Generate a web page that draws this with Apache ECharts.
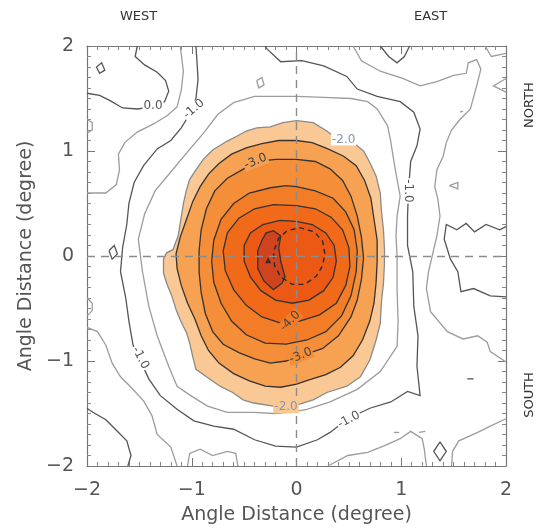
<!DOCTYPE html>
<html>
<head>
<meta charset="utf-8">
<script src="https://cdn.jsdelivr.net/npm/echarts@6/dist/echarts.min.js"></script>
<style>
  html, body { margin: 0; padding: 0; background: #fff; }
  #chart { width: 540px; height: 530px; }
</style>
</head>
<body>
<div id="chart"></div>
<script>
// ---- axis ticks ----
const xTicks = [-2, -1, 0, 1, 2];
const yTicks = [-2, -1, 0, 1, 2];

// ---- filled contour polygons (angle distance x, angle distance y), levels -2.0 ... -5.0 ----
const cLevels = [-2.0, -2.5, -3.0, -3.5, -4.0, -4.5, -5.0];
const c20 = [[0.00,1.29],[0.16,1.27],[0.29,1.19],[0.38,1.12],[0.54,1.08],[0.64,1.00],[0.70,0.89],[0.76,0.76],[0.80,0.60],[0.81,0.44],[0.83,0.25],[0.84,0.06],[0.84,-0.07],[0.83,-0.26],[0.81,-0.45],[0.80,-0.64],[0.76,-0.80],[0.70,-0.99],[0.61,-1.15],[0.48,-1.24],[0.29,-1.30],[0.16,-1.37],[0.03,-1.41],[-0.10,-1.43],[-0.22,-1.43],[-0.41,-1.40],[-0.51,-1.37],[-0.61,-1.30],[-0.73,-1.24],[-0.86,-1.15],[-0.96,-1.08],[-0.99,-0.96],[-1.02,-0.83],[-1.05,-0.73],[-1.11,-0.61],[-1.15,-0.51],[-1.19,-0.38],[-1.24,-0.26],[-1.27,-0.16],[-1.27,-0.03],[-1.24,0.03],[-1.18,0.06],[-1.13,0.19],[-1.11,0.31],[-1.08,0.50],[-1.05,0.63],[-1.02,0.73],[-0.96,0.82],[-0.89,0.92],[-0.80,1.01],[-0.67,1.09],[-0.57,1.14],[-0.48,1.19],[-0.38,1.22],[-0.25,1.23],[-0.13,1.27]];
const c25 = [[0.00,1.10],[0.15,1.08],[0.30,1.02],[0.45,0.95],[0.57,0.86],[0.65,0.72],[0.71,0.55],[0.74,0.35],[0.77,0.15],[0.77,-0.05],[0.76,-0.25],[0.74,-0.45],[0.70,-0.62],[0.63,-0.80],[0.54,-0.95],[0.42,-1.06],[0.28,-1.13],[0.12,-1.18],[0.00,-1.22],[-0.15,-1.25],[-0.30,-1.24],[-0.45,-1.19],[-0.60,-1.12],[-0.74,-1.02],[-0.84,-0.90],[-0.91,-0.76],[-0.97,-0.60],[-1.04,-0.45],[-1.10,-0.28],[-1.14,-0.12],[-1.15,0.02],[-1.11,0.18],[-1.05,0.35],[-0.99,0.52],[-0.92,0.66],[-0.84,0.78],[-0.74,0.88],[-0.62,0.97],[-0.48,1.03],[-0.33,1.07],[-0.17,1.10]];
const c30 = [[0.00,0.92],[0.18,0.90],[0.32,0.83],[0.44,0.72],[0.52,0.57],[0.58,0.38],[0.62,0.18],[0.64,-0.02],[0.62,-0.22],[0.58,-0.42],[0.52,-0.58],[0.40,-0.76],[0.25,-0.88],[0.05,-0.95],[-0.10,-1.00],[-0.25,-1.02],[-0.40,-0.98],[-0.55,-0.92],[-0.70,-0.84],[-0.80,-0.72],[-0.87,-0.55],[-0.91,-0.35],[-0.93,-0.15],[-0.93,0.05],[-0.91,0.25],[-0.86,0.45],[-0.78,0.62],[-0.66,0.74],[-0.52,0.82],[-0.38,0.90],[-0.20,0.92]];
const c35 = [[0.00,0.66],[0.18,0.62],[0.35,0.55],[0.47,0.42],[0.55,0.25],[0.58,0.05],[0.57,-0.15],[0.52,-0.38],[0.43,-0.57],[0.28,-0.72],[0.10,-0.80],[-0.10,-0.84],[-0.30,-0.83],[-0.48,-0.75],[-0.62,-0.62],[-0.72,-0.45],[-0.79,-0.25],[-0.81,-0.05],[-0.79,0.15],[-0.72,0.35],[-0.60,0.50],[-0.45,0.60],[-0.25,0.65],[-0.10,0.67]];
const c40 = [[0.00,0.48],[0.18,0.45],[0.33,0.37],[0.44,0.25],[0.50,0.08],[0.51,-0.10],[0.47,-0.28],[0.38,-0.45],[0.22,-0.56],[0.03,-0.62],[-0.15,-0.64],[-0.33,-0.58],[-0.48,-0.47],[-0.60,-0.32],[-0.68,-0.14],[-0.70,0.05],[-0.66,0.22],[-0.55,0.36],[-0.40,0.45],[-0.22,0.49]];
const c45 = [[0.00,0.33],[0.15,0.30],[0.28,0.22],[0.36,0.10],[0.38,-0.05],[0.35,-0.20],[0.26,-0.33],[0.12,-0.42],[-0.04,-0.45],[-0.20,-0.42],[-0.34,-0.33],[-0.44,-0.20],[-0.50,-0.05],[-0.50,0.10],[-0.44,0.22],[-0.32,0.30],[-0.16,0.34]];
const c50 = [[-0.29,0.22],[-0.22,0.24],[-0.15,0.19],[-0.17,0.08],[-0.15,-0.05],[-0.11,-0.20],[-0.14,-0.26],[-0.22,-0.32],[-0.31,-0.24],[-0.37,-0.12],[-0.37,0.05],[-0.33,0.15]];

// dashed contour around the core
const coreDashed = [[0.27,0.02],[0.25,0.14],[0.17,0.23],[0.03,0.27],[-0.09,0.24],[-0.17,0.17],[-0.22,0.04],[-0.21,-0.09],[-0.15,-0.20],[-0.04,-0.27],[0.08,-0.27],[0.19,-0.19],[0.25,-0.09],[0.27,0.02]];
// peak position
const peak = [[-0.27, -0.04]];

// ---- open / outer contour lines ----
const lineM15 = [[0.00,1.52],[0.26,1.51],[0.52,1.50],[0.68,1.47],[0.77,1.40],[0.87,1.24],[0.90,1.09],[0.93,0.90],[0.96,0.73],[0.99,0.57],[0.96,0.38],[0.95,0.19],[0.96,0.00],[0.96,-0.31],[0.97,-0.63],[0.96,-0.86],[0.80,-1.10],[0.58,-1.27],[0.32,-1.39],[0.10,-1.46],[-0.06,-1.49],[-0.22,-1.50],[-0.41,-1.49],[-0.66,-1.49],[-0.85,-1.43],[-1.01,-1.33],[-1.14,-1.24],[-1.22,-1.05],[-1.33,-0.76],[-1.41,-0.48],[-1.47,-0.15],[-1.51,0.16],[-1.45,0.40],[-1.35,0.62],[-1.20,0.80],[-1.05,0.98],[-0.88,1.18],[-0.75,1.35],[-0.60,1.46],[-0.40,1.52],[-0.20,1.52],[0.00,1.52]];
const lineM10 = [[-0.96,2.00],[-0.95,1.85],[-0.94,1.68],[-0.96,1.50],[-1.02,1.35],[-1.10,1.22],[-1.20,1.10],[-1.33,1.02],[-1.46,0.86],[-1.55,0.70],[-1.60,0.50],[-1.62,0.30],[-1.66,0.08],[-1.68,-0.15],[-1.63,-0.40],[-1.60,-0.62],[-1.56,-0.85],[-1.48,-1.02],[-1.41,-1.17],[-1.30,-1.33],[-1.14,-1.46],[-0.98,-1.57],[-0.79,-1.62],[-0.60,-1.65],[-0.40,-1.75],[-0.20,-1.81],[0.00,-1.82],[0.20,-1.75],[0.32,-1.68],[0.49,-1.55],[0.70,-1.45],[0.90,-1.39],[1.06,-1.29],[1.18,-1.33],[1.15,-1.05],[1.16,-0.76],[1.12,-0.48],[1.11,-0.15],[1.06,0.10],[1.06,0.38],[1.07,0.64],[1.09,0.90],[1.15,1.05],[1.18,1.21],[1.12,1.37],[0.99,1.47],[0.77,1.52],[0.58,1.59],[0.48,1.71],[0.26,1.81],[0.05,1.86],[-0.15,1.85],[-0.28,1.97],[-0.30,2.00]];
const lineM05Left = [[-2.00,0.60],[-1.82,0.60],[-1.72,0.68],[-1.69,0.82],[-1.70,0.97],[-1.64,1.08],[-1.52,1.18],[-1.36,1.26],[-1.23,1.34],[-1.14,1.42],[-1.10,1.58],[-1.08,1.76],[-1.11,2.00]];
const lineM05LowLeft = [[-2.00,-0.68],[-1.90,-0.72],[-1.82,-0.85],[-1.76,-1.02],[-1.68,-1.15],[-1.58,-1.25],[-1.46,-1.38],[-1.38,-1.52],[-1.33,-1.70],[-1.20,-1.82],[-1.14,-2.00]];
const lineZeroUpLeft = [[-2.00,1.55],[-1.88,1.53],[-1.78,1.48],[-1.66,1.41],[-1.52,1.40],[-1.38,1.42],[-1.26,1.47],[-1.22,1.57],[-1.25,1.67],[-1.33,1.75],[-1.45,1.82],[-1.54,1.90],[-1.52,2.00]];
const lineZeroLowLeft = [[-2.00,-1.45],[-1.94,-1.49],[-1.82,-1.56],[-1.72,-1.66],[-1.62,-1.76],[-1.58,-1.90],[-1.61,-2.00]];
const lineBottomArc = [[-1.04,-2.00],[-1.02,-1.88],[-0.92,-1.84],[-0.80,-1.90],[-0.66,-1.86],[-0.58,-1.88],[-0.56,-2.00]];
const lineBottomRight = [[0.30,-2.00],[0.49,-1.90],[0.68,-1.87],[0.83,-1.81],[0.99,-1.74],[1.09,-1.67],[1.20,-1.74],[1.22,-1.84],[1.24,-2.00]];
const lineBottomRight2 = [[1.48,-2.00],[1.49,-1.86],[1.55,-1.76],[1.73,-1.68],[1.85,-1.62],[2.00,-1.55]];
const lineRightZig = [[2.00,0.28],[1.94,0.25],[1.81,0.30],[1.70,0.23],[1.62,0.31],[1.53,0.25],[1.43,0.30],[1.41,0.16],[1.47,-0.03],[1.54,-0.15],[1.57,-0.34],[1.69,-0.31],[1.85,-0.38],[2.00,-0.39]];
const lineRightLong = [[0.54,2.00],[0.62,1.86],[0.80,1.76],[1.02,1.69],[1.18,1.62],[1.34,1.66],[1.50,1.72],[1.62,1.74],[1.64,1.84],[1.72,1.87],[1.76,1.78],[1.72,1.62],[1.66,1.40],[1.56,1.30],[1.48,1.20],[1.43,1.08],[1.40,0.95],[1.34,0.82],[1.32,0.66],[1.35,0.54],[1.37,0.38],[1.34,0.19],[1.30,0.02],[1.26,-0.15],[1.24,-0.31],[1.28,-0.53],[1.44,-0.72],[1.59,-0.79],[1.73,-0.76],[1.82,-0.82],[1.85,-0.91],[2.00,-1.01]];
const lineTopV = [[0.80,2.00],[0.88,1.90],[0.96,1.84],[1.03,1.90],[1.08,2.00]];
const lineTopRight = [[1.80,2.00],[1.86,1.90],[2.00,1.93]];
const lineRightNotch = [[2.00,1.69],[1.88,1.62],[2.00,1.56]];
const lineLeftNotch = [[-2.00,1.30],[-1.95,1.27],[-1.95,1.20],[-2.00,1.17]];
const lineLeftNotch2 = [[-2.00,-0.40],[-1.95,-0.45],[-1.95,-0.52],[-2.00,-0.57]];
const loopA = [[-1.91,1.80],[-1.86,1.84],[-1.83,1.77],[-1.88,1.74],[-1.91,1.80]];
const loopB = [[-0.38,1.67],[-0.33,1.70],[-0.31,1.63],[-0.36,1.60],[-0.38,1.67]];
const loopC = [[-1.79,0.05],[-1.74,0.10],[-1.71,0.02],[-1.76,-0.03],[-1.79,0.05]];
const loopD = [[1.37,-1.77],[1.43,-1.86],[1.37,-1.95],[1.31,-1.86],[1.37,-1.77]];
const loopE = [[1.46,0.67],[1.54,0.70],[1.54,0.64],[1.46,0.67]];
const bitA = [[1.56,1.37],[1.59,1.38]];
const bitB = [[1.63,-1.17],[1.69,-1.17]];
const bitC = [[0.93,-1.68],[0.98,-1.68]];
const bitD = [[1.17,-1.68],[1.23,-1.67]];

// ---- contour labels ----
const labelText = ['0.0', '-1.0', '-1.0', '-1.0', '-1.0', '-2.0', '-2.0', '-3.0', '-3.0', '-4.0'];
const labelPos  = [[-1.37,1.43],[-0.98,1.40],[1.07,0.62],[-1.49,-0.97],[0.50,-1.56],[0.45,1.11],[-0.10,-1.44],[-0.39,0.90],[0.04,-0.95],[-0.06,-0.62]];

// ---- styling ----
const DARK = '#333333', GREY = '#9c9c9c';
const bandFill = ['#FAC894', '#F7A252', '#F58E38', '#F37C26', '#F06A1A', '#EB5914', '#CF431E'];
const levelStroke = ['#8a8a8a', DARK, DARK, DARK, DARK, DARK, DARK];
const labelStyle = [
  { rot: 0,   color: '#555',    bg: '#fff' },
  { rot: 40,  color: '#555',    bg: '#fff' },
  { rot: -90, color: '#555',    bg: '#fff' },
  { rot: -62, color: '#555',    bg: '#fff' },
  { rot: 28,  color: '#555',    bg: '#fff' },
  { rot: 0,   color: '#8497ab', bg: '#fff' },
  { rot: 0,   color: '#8497ab', bg: '#FAC894' },
  { rot: 22,  color: '#444',    bg: '#F7A252' },
  { rot: 22,  color: '#444',    bg: '#F58E38' },
  { rot: 45,  color: '#444',    bg: '#F37C26' }
];

const filled = [c20, c25, c30, c35, c40, c45, c50];
const shapes = [];
filled.forEach((pts, i) => shapes.push({ pts, closed: true, fill: bandFill[i], stroke: levelStroke[i], width: 1.3 }));

const greyLines = [lineM15, lineM05Left, lineM05LowLeft, lineBottomArc, lineBottomRight, lineBottomRight2, lineRightLong, lineTopRight, lineRightNotch, lineLeftNotch, lineLeftNotch2, loopB, loopE, bitA, bitC, bitD];
const darkLines = [lineM10, lineZeroUpLeft, lineZeroLowLeft, lineRightZig, lineTopV, loopA, loopC, loopD, bitB];
const lineShapes = [];
greyLines.forEach(pts => lineShapes.push({ pts, stroke: GREY, width: 1.3 }));
darkLines.forEach(pts => lineShapes.push({ pts, stroke: '#555', width: 1.3 }));
lineShapes.push({ pts: coreDashed, stroke: '#2b2b2b', width: 1.4, dash: [5, 4] });

const FONT = 'DejaVu Sans';
const minus = v => (v < 0 ? '\u2212' + Math.abs(v) : String(v));

function renderFilled(params, api) {
  const s = shapes[params.dataIndex];
  return {
    type: 'polygon', z2: params.dataIndex, silent: true,
    shape: { points: s.pts.map(p => api.coord(p)) },
    style: { fill: s.fill, stroke: s.stroke, lineWidth: s.width }
  };
}
function renderLines(params, api) {
  const s = lineShapes[params.dataIndex];
  return {
    type: 'polyline', silent: true,
    shape: { points: s.pts.map(p => api.coord(p)) },
    style: { fill: 'none', stroke: s.stroke, lineWidth: s.width, lineDash: s.dash || null }
  };
}
function renderLabels(params, api) {
  const i = params.dataIndex, st = labelStyle[i];
  const c = api.coord(labelPos[i]);
  return {
    type: 'text', x: c[0], y: c[1], rotation: st.rot * Math.PI / 180, silent: true,
    style: {
      text: labelText[i], fill: st.color, font: '12px ' + FONT,
      align: 'center', verticalAlign: 'middle',
      backgroundColor: st.bg, padding: [0, 1]
    }
  };
}

const axisCommon = {
  type: 'value', min: -2, max: 2, interval: 1,
  axisLine: { show: true, onZero: false, lineStyle: { color: '#777', width: 1.2 } },
  axisTick: { show: true, inside: true, length: 8, lineStyle: { color: '#777' } },
  minorTick: { show: true, splitNumber: 10, length: 4, lineStyle: { color: '#888' } },
  splitLine: { show: false }, minorSplitLine: { show: false }
};

const chart = echarts.init(document.getElementById('chart'), null, { renderer: 'canvas' });
chart.setOption({
  animation: false,
  backgroundColor: '#fff',
  grid: { left: 87, right: 34, top: 46, bottom: 64 },
  xAxis: [
    Object.assign({}, axisCommon, {
      position: 'bottom',
      axisLabel: { show: true, margin: 15, fontSize: 19, color: '#555', fontFamily: FONT,
                   formatter: v => (xTicks.indexOf(v) >= 0 ? minus(v) : '') },
      name: 'Angle Distance (degree)', nameLocation: 'middle', nameGap: 40,
      nameTextStyle: { fontSize: 19, color: '#555', fontFamily: FONT }
    }),
    Object.assign({}, axisCommon, { position: 'top', axisLabel: { show: false } })
  ],
  yAxis: [
    Object.assign({}, axisCommon, {
      position: 'left',
      axisLabel: { show: true, margin: 13, fontSize: 19, color: '#555', fontFamily: FONT,
                   formatter: v => (yTicks.indexOf(v) >= 0 ? minus(v) : '') },
      name: 'Angle Distance (degree)', nameLocation: 'middle', nameGap: 44,
      nameTextStyle: { fontSize: 19, color: '#555', fontFamily: FONT }
    }),
    Object.assign({}, axisCommon, { position: 'right', axisLabel: { show: false } })
  ],
  graphic: [
    { type: 'text', left: 120, top: 10, style: { text: 'WEST', font: '13px ' + FONT, fill: '#333' } },
    { type: 'text', left: 414, top: 10, style: { text: 'EAST', font: '13px ' + FONT, fill: '#333' } },
    { type: 'text', x: 523, y: 105, rotation: Math.PI / 2,
      style: { text: 'NORTH', font: '13px ' + FONT, fill: '#333', align: 'center', verticalAlign: 'top' } },
    { type: 'text', x: 523, y: 395, rotation: Math.PI / 2,
      style: { text: 'SOUTH', font: '13px ' + FONT, fill: '#333', align: 'center', verticalAlign: 'top' } }
  ],
  series: [
    { type: 'custom', name: 'bands', coordinateSystem: 'cartesian2d', renderItem: renderFilled,
      data: shapes.map(s => s.pts[0]), z: 2, silent: true },
    { type: 'custom', name: 'lines', coordinateSystem: 'cartesian2d', renderItem: renderLines,
      data: lineShapes.map(s => s.pts[0]), z: 3, silent: true },
    { type: 'scatter', name: 'peak', data: peak, symbol: 'triangle', symbolSize: 6,
      itemStyle: { color: '#222' }, z: 4, silent: true,
      markLine: { silent: true, symbol: 'none', label: { show: false },
        lineStyle: { type: [8, 6], color: '#8c8c8c', width: 1.4 },
        data: [{ xAxis: 0 }, { yAxis: 0 }] } },
    { type: 'custom', name: 'labels', coordinateSystem: 'cartesian2d', renderItem: renderLabels,
      data: labelPos, z: 5, silent: true }
  ]
});
</script>
</body>
</html>
